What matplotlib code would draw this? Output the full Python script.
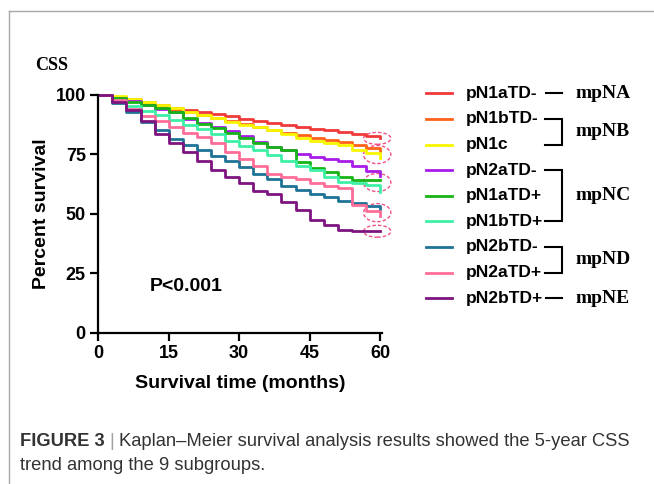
import numpy as np
import matplotlib
matplotlib.use('Agg')
import matplotlib.pyplot as plt
from matplotlib.patches import Ellipse
from matplotlib.lines import Line2D
from matplotlib import font_manager

# データ（図から読み取った生存率, %）
months = [0, 3, 6, 9, 12, 15, 18, 21, 24, 27, 30, 33, 36, 39, 42, 45, 48, 51, 54, 57, 60]
s_n1a_neg = [100, 99.0, 98.0, 96.8, 95.6, 94.5, 93.5, 92.7, 91.8, 90.8, 89.9, 89.0, 88.2, 87.3, 86.3, 85.6, 85.0, 84.3, 83.3, 82.4, 81.6]
s_n1b_neg = [100, 98.8, 97.6, 96.4, 95.0, 93.7, 92.6, 91.5, 90.3, 89.0, 87.6, 86.4, 85.2, 84.0, 82.8, 81.9, 80.8, 80.0, 78.8, 77.6, 76.2]
s_n1c = [100, 99.2, 98.3, 97.0, 95.6, 94.2, 92.8, 91.6, 90.0, 88.5, 87.4, 86.2, 85.0, 83.5, 81.8, 80.6, 79.8, 79.0, 76.7, 75.5, 73.4]
s_n2a_neg = [100, 98.6, 97.2, 95.6, 94.0, 92.5, 89.8, 88.2, 86.4, 84.6, 82.5, 80.0, 78.0, 76.5, 75.0, 73.8, 73.0, 72.0, 69.8, 68.0, 66.0]
s_n1a_pos = [100, 98.6, 97.0, 95.4, 94.2, 92.5, 90.0, 87.8, 86.0, 84.0, 81.7, 79.8, 78.0, 76.5, 71.5, 69.0, 67.5, 65.5, 64.3, 64.2, 64.2]
s_n1b_pos = [100, 97.0, 95.0, 93.2, 91.5, 89.5, 87.3, 85.5, 83.5, 80.4, 78.5, 76.5, 74.5, 72.2, 70.2, 68.5, 65.5, 63.4, 62.8, 62.0, 59.0]
s_n2b_neg = [100, 96.5, 92.6, 88.5, 85.0, 81.5, 78.6, 76.5, 74.0, 72.2, 69.5, 66.5, 64.5, 61.5, 59.8, 58.3, 56.8, 55.5, 54.5, 53.2, 52.0]
s_n2a_pos = [100, 97.5, 94.0, 91.0, 89.0, 86.5, 84.0, 82.2, 79.5, 75.7, 72.8, 70.2, 66.5, 65.4, 64.5, 62.8, 61.8, 60.7, 53.5, 51.0, 48.8]
s_n2b_pos = [100, 97.0, 93.5, 89.0, 83.3, 79.5, 75.8, 72.0, 68.5, 65.3, 63.0, 59.4, 58.2, 55.0, 51.6, 47.3, 45.3, 43.0, 42.6, 42.6, 42.6]

labels = ['pN1aTD-', 'pN1bTD-', 'pN1c', 'pN2aTD-', 'pN1aTD+', 'pN1bTD+', 'pN2bTD-', 'pN2aTD+', 'pN2bTD+']
series = [s_n1a_neg, s_n1b_neg, s_n1c, s_n2a_neg, s_n1a_pos, s_n1b_pos, s_n2b_neg, s_n2a_pos, s_n2b_pos]
colors = ['#F03A3A', '#FF6218', '#F7F700', '#A81CE8', '#16B416', '#3EF0A6', '#1F7396', '#FF6E98', '#7D1480']

# 新しい分類（凡例の括弧）: (最初の行, 最後の行, 名前)
groups = [(0, 0, 'mpNA'), (1, 2, 'mpNB'), (3, 5, 'mpNC'), (6, 7, 'mpND'), (8, 8, 'mpNE')]

# フォント
installed = {f.name for f in font_manager.fontManager.ttflist}
sans = 'Liberation Sans'
serif = 'Liberation Serif'
narrow = 'Liberation Sans Narrow' if 'Liberation Sans Narrow' in installed else 'Liberation Sans'
cap_size = 12 * 1.1 if narrow == 'Liberation Sans' else 15

W, H = 654, 484
fig = plt.figure(figsize=(W / 100, H / 100), dpi=100)

# 外枠（上と左の灰色線）
fig.add_artist(Line2D([9 / W, 1], [1 - 11 / H, 1 - 11 / H], color='#a8a8a8', lw=1.0))
fig.add_artist(Line2D([9 / W, 9 / W], [0, 1 - 11 / H], color='#a8a8a8', lw=1.0))

ax = fig.add_axes([98.3 / W, 0.3126, 283.6 / W, 0.4921])
for s, c, lab in zip(series, colors, labels):
    ax.plot(months, s, drawstyle='steps-post', color=c, lw=2.0, label=lab, clip_on=False)

# 末端の破線楕円（グループごとの最終値の平均を中心に）
for a, b, name in groups:
    ends = [series[i][-1] for i in range(a, b + 1)]
    h = 5.0 if a == b else 7.6
    ax.add_patch(Ellipse((59.4, np.mean(ends)), 5.8, h, fill=False, ec='#F0508A',
                         ls=(0, (2.5, 1.5)), lw=1.0, clip_on=False))

ax.set_xlim(0, 60.4)
ax.set_ylim(0, 100)
for sp in ['top', 'right']:
    ax.spines[sp].set_visible(False)
for sp in ['left', 'bottom']:
    ax.spines[sp].set_linewidth(1.6)
ax.set_xticks([0, 15, 30, 45, 60], ['0', '15', '30', '45', '60'], fontweight='bold', family=sans)
ax.set_yticks([0, 25, 50, 75, 100], ['0', '25', '50', '75', '100'], fontweight='bold', family=sans)
ax.tick_params(labelsize=13, length=6, width=1.6, pad=3)
ax.set_xlabel('Survival time (months)', fontsize=14, fontweight='bold', family=sans, labelpad=9)
ax.set_ylabel('Percent survival', fontsize=14, fontweight='bold', family=sans, labelpad=4)
ax.text(11, 19.5, 'P<0.001', fontsize=14, fontweight='bold', family=sans, va='center')

# 凡例（ピクセル座標の重ね合わせ軸）
ov = fig.add_axes([0, 0, 1, 1], zorder=5)
ov.set_xlim(0, W)
ov.set_ylim(H, 0)
ov.axis('off')
ov.patch.set_alpha(0)

row_y = 93.3 + 25.6 * np.arange(len(labels))
for y, c, lab in zip(row_y, colors, labels):
    ov.plot([426, 451.5], [y, y], color=c, lw=2.0)
    ov.text(466, y, lab, fontsize=12.5, fontweight='bold', family=sans, va='center', ha='left')

for a, b, name in groups:
    ya, yb = row_y[a], row_y[b]
    if a == b:
        ov.plot([545.5, 562], [ya, ya], color='black', lw=1.5)
    else:
        ov.plot([545, 562, 562, 545], [ya, ya, yb, yb], color='black', lw=1.5, solid_joinstyle='miter')
    ov.text(576, (ya + yb) / 2, name, fontsize=14, fontweight='bold', family=serif, va='center', ha='left')

ov.text(35, 66, 'CSS', fontsize=13, fontweight='bold', family=serif, va='center', ha='left')

# キャプション
fig.canvas.draw()
t1 = ov.text(20, 441, 'FIGURE 3', fontsize=cap_size, fontweight='bold', family=narrow, va='center',
             ha='left', color='#333333')
fig.canvas.draw()
x1 = ov.transData.inverted().transform(t1.get_window_extent().get_points())[1, 0]
t2 = ov.text(x1 + 5, 441, '|', fontsize=cap_size, family=narrow, va='center', ha='left', color='#a0a0a0')
fig.canvas.draw()
x2 = ov.transData.inverted().transform(t2.get_window_extent().get_points())[1, 0]
ov.text(x2 + 5, 441, 'Kaplan\u2013Meier survival analysis results showed the 5-year CSS',
        fontsize=cap_size, family=narrow, va='center', ha='left', color='#333333')
ov.text(20, 466, 'trend among the 9 subgroups.', fontsize=cap_size, family=narrow, va='center',
        ha='left', color='#333333')

fig.savefig('out.png', dpi=100)
